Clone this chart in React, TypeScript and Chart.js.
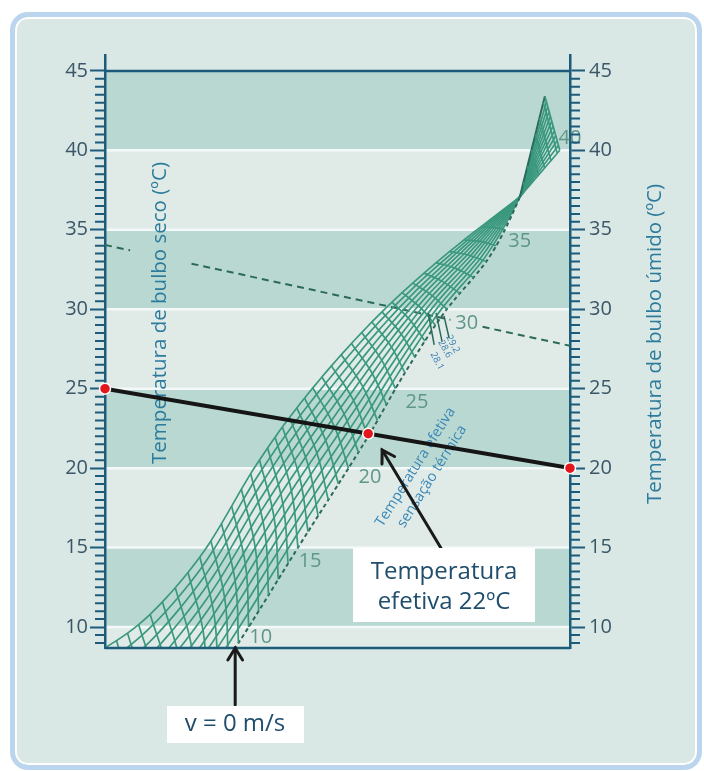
import React, { useEffect, useRef } from 'react';
import { Chart, registerables } from 'chart.js';

Chart.register(...registerables);

// ---------------- data ----------------
// temperature axes (°C)
const yMin = 8.68;
const yMax = 46;
const yTopLine = 45;
const bandEdges = [8.68, 10, 15, 20, 25, 30, 35, 40, 45];
const bandShade = ['light', 'dark', 'light', 'dark', 'light', 'dark', 'light', 'dark'];

// reading line: dry bulb (left) -> wet bulb (right)
const dryBulbTemp = 25;
const wetBulbTemp = 20;
const effTempX = 56.6; // position along the nomogram (0 = left axis, 100 = right axis)
const effTempY = 22.17;

// dashed reference line (left value, right value, interrupted where text sits)
const refLineLeft = 34.05;
const refLineRight = 27.7;
const refLineGaps = [[5.4, 18.6], [74.3, 81.2]];

// v = 0 m/s curve: effective temperature e sits at y = e
const v0Et = [-4, 0, 5, 8.68, 10, 15, 22, 26, 30, 33, 35, 37.07];
const v0X = [0, 8.5, 19.8, 28.0, 30.9, 41.5, 56.6, 64.5, 73.5, 82.0, 86.0, 89.2];
const v0TipEt = 43.4;
const v0TipX = 94.6;

// highest-velocity curve (upper-left boundary)
const vmaxEt = [-4, -1, 3, 7, 12.5, 20, 26, 31.5, 34.5, 37.07];
const vmaxX = [-8, 0, 9.7, 20.4, 32.3, 44.7, 57.4, 69.9, 78.9, 89.2];
const vmaxY = [7.6, 8.7, 10.8, 14.4, 20.1, 25.05, 29.2, 32.6, 34.75, 37.07];
const vmaxEndX = 97.8;
const vmaxEndY = 40.0;

const crossingEt = 37.07;

// effective-temperature lines of the mesh
const etLines = [0, 1, 2, 3, 4, 5, 6, 7, 8, 9, 10, 11, 12, 13, 14, 15, 16, 17, 18, 19, 20, 21, 22, 23, 24, 25, 26, 27, 28, 29, 30, 31, 32, 33, 34, 35, 36, 37, 38, 39, 40, 41, 42, 43, 43.4];
const fanEtSteps = [-4, -3, -2, -1, 0, 1, 2, 3, 4, 5, 6, 7, 8, 9, 10, 11, 12, 13, 14, 15, 16, 17, 18, 19, 20, 21, 22, 23, 24, 25, 26, 27, 28, 29, 30, 31, 32, 33, 34, 35, 36, 37.07, 38, 39, 40, 41, 42, 43, 43.4];
// air-velocity lines (fraction of the way from v = 0 to the highest velocity)
const fanFractions = [0, 0.1, 0.19, 0.28, 0.37, 0.46, 0.55, 0.64, 0.73, 0.82, 0.91, 1];

// effective temperature labels
const etLabels = ['10', '15', '20', '25', '30', '35', '40'];
const etLabelX = [33.5, 44.1, 57.0, 67.1, 77.8, 89.2, 100];
const etLabelY = [9.37, 14.15, 19.44, 24.16, 29.14, 34.3, 40.78];

// small marks near ET 30
const markLabels = ['28.1', '28.6', '29.2'];
const markX1 = [69.5, 71.2, 72.9];
const markY1 = [29.77, 29.77, 29.58];
const markX2 = [70.8, 72.5, 74.0];
const markY2 = [27.75, 27.94, 28.19];
const markLabelX = [71.4, 73.1, 74.8];
const markLabelY = [26.74, 27.5, 27.82];

// arrows (tail -> tip, chart units)
const arrowEtFrom = { x: 72.5, y: 14.85 };
const arrowEtTo = { x: 59.6, y: 21.14 };
const arrowVFrom = { x: 28.0, y: 5.09 };
const arrowVTo = { x: 28.0, y: 8.68 };

// ---------------- styles ----------------
const AXIS = '#1d5b7a';
const TICK_TXT = '#3b5767';
const TITLE = '#2c7b9b';
const MESH = '#3a987e';
const MESH_DARK = '#2b6a5a';
const DARK_BAND = '#b9d8d1';
const LIGHT_BAND = '#e0ebe8';
const FONT = '"Open Sans", "DejaVu Sans", sans-serif';
const PX_PER_X = 4.65;
const PX_PER_Y = 15.886;

// smooth monotone interpolation through table values (linear beyond the ends)
function monotone(keys: number[], vals: number[]) {
  const n = keys.length;
  const d: number[] = [];
  const m: number[] = [];
  for (let i = 0; i < n - 1; i++) d[i] = (vals[i + 1] - vals[i]) / (keys[i + 1] - keys[i]);
  m[0] = d[0];
  m[n - 1] = d[n - 2];
  for (let i = 1; i < n - 1; i++) m[i] = d[i - 1] * d[i] <= 0 ? 0 : (d[i - 1] + d[i]) / 2;
  for (let i = 0; i < n - 1; i++) {
    if (d[i] === 0) { m[i] = 0; m[i + 1] = 0; continue; }
    const a = m[i] / d[i];
    const b = m[i + 1] / d[i];
    const s = a * a + b * b;
    if (s > 9) {
      const t = 3 / Math.sqrt(s);
      m[i] = t * a * d[i];
      m[i + 1] = t * b * d[i];
    }
  }
  return (k: number) => {
    if (k <= keys[0]) return vals[0] + d[0] * (k - keys[0]);
    if (k >= keys[n - 1]) return vals[n - 1] + d[n - 2] * (k - keys[n - 1]);
    let i = 0;
    while (i < n - 2 && k > keys[i + 1]) i++;
    const h = keys[i + 1] - keys[i];
    const t = (k - keys[i]) / h;
    const t2 = t * t;
    const t3 = t2 * t;
    return (2 * t3 - 3 * t2 + 1) * vals[i] + (t3 - 2 * t2 + t) * h * m[i] + (-2 * t3 + 3 * t2) * vals[i + 1] + (t3 - t2) * h * m[i + 1];
  };
}
const v0Fx = monotone(v0Et, v0X);
const vmFx = monotone(vmaxEt, vmaxX);
const vmFy = monotone(vmaxEt, vmaxY);
const lastV0X = v0X[v0X.length - 1];
const lastVmX = vmaxX[vmaxX.length - 1];
const lastVmY = vmaxY[vmaxY.length - 1];

const p0 = (e: number) => {
  if (e <= crossingEt) return { x: v0Fx(e), y: e };
  const t = (e - crossingEt) / (v0TipEt - crossingEt);
  return { x: lastV0X + (v0TipX - lastV0X) * t, y: e };
};
const p1 = (e: number) => {
  if (e <= crossingEt) return { x: vmFx(e), y: vmFy(e) };
  const t = (e - crossingEt) / (v0TipEt - crossingEt);
  return { x: lastVmX + (vmaxEndX - lastVmX) * t, y: lastVmY + (vmaxEndY - lastVmY) * t };
};

function buildDatasets() {
  const ds: any[] = [];
  // dashed reference line, split at the gaps
  const refAt = (x: number) => refLineLeft + (refLineRight - refLineLeft) * (x / 100);
  const refData: any[] = [{ x: 0, y: refAt(0) }];
  refLineGaps.forEach(([a, b]) => {
    refData.push({ x: a, y: refAt(a) }, { x: (a + b) / 2, y: null }, { x: b, y: refAt(b) });
  });
  refData.push({ x: 100, y: refAt(100) });
  ds.push({ data: refData, borderColor: MESH_DARK, borderWidth: 2, borderDash: [7, 5], pointRadius: 0, spanGaps: false, order: 6 });

  // ET lines (slightly bowed)
  etLines.forEach((e) => {
    const a = p0(e);
    const b = p1(e);
    const dxp = (b.x - a.x) * PX_PER_X;
    const dyp = (b.y - a.y) * PX_PER_Y;
    const len = Math.hypot(dxp, dyp);
    const bow = e <= crossingEt ? 0.045 * len : 0;
    const nx = len ? dyp / len : 0;
    const ny = len ? -dxp / len : 0;
    const mid = {
      x: (a.x + b.x) / 2 + (nx * bow) / PX_PER_X,
      y: (a.y + b.y) / 2 + (ny * bow) / PX_PER_Y,
    };
    ds.push({ data: [a, mid, b], borderColor: MESH, borderWidth: 1.7, pointRadius: 0, tension: 0.4, order: 4 });
  });
  // velocity lines
  fanFractions.forEach((t) => {
    const data = fanEtSteps.map((e) => {
      const a = p0(e);
      const b = p1(e);
      return { x: a.x + (b.x - a.x) * t, y: a.y + (b.y - a.y) * t };
    });
    const isZero = t === 0;
    ds.push({
      data,
      borderColor: isZero ? MESH_DARK : MESH,
      borderWidth: isZero ? 2 : 1.7,
      pointRadius: 0,
      tension: 0.2,
      order: 4,
      segment: isZero ? { borderDash: (c: any) => (c.p1.parsed.y <= crossingEt + 0.01 ? [4, 3] : undefined) } : undefined,
    });
  });
  // small marks
  markX1.forEach((x, i) => {
    ds.push({ data: [{ x, y: markY1[i] }, { x: markX2[i], y: markY2[i] }], borderColor: MESH_DARK, borderWidth: 1.5, pointRadius: 0, order: 3 });
  });
  // reading line
  ds.push({ data: [{ x: 0, y: dryBulbTemp }, { x: 100, y: wetBulbTemp }], borderColor: '#151515', borderWidth: 4, pointRadius: 0, order: 1 });
  ds.push({
    data: [{ x: 0, y: dryBulbTemp }, { x: effTempX, y: effTempY }, { x: 100, y: wetBulbTemp }],
    showLine: false,
    pointRadius: 5.5,
    pointBackgroundColor: '#e3151d',
    pointBorderColor: '#ffffff',
    pointBorderWidth: 1.5,
    order: 0,
    clip: false,
  });
  return ds;
}

function drawArrow(ctx: CanvasRenderingContext2D, x1: number, y1: number, x2: number, y2: number) {
  ctx.beginPath();
  ctx.moveTo(x1, y1);
  ctx.lineTo(x2, y2);
  ctx.stroke();
  const ang = Math.atan2(y2 - y1, x2 - x1);
  const L = 14;
  const w = 0.55;
  ctx.beginPath();
  ctx.moveTo(x2 - L * Math.cos(ang - w), y2 - L * Math.sin(ang - w));
  ctx.lineTo(x2, y2);
  ctx.lineTo(x2 - L * Math.cos(ang + w), y2 - L * Math.sin(ang + w));
  ctx.stroke();
}

function rotText(ctx: CanvasRenderingContext2D, text: string, x: number, y: number, ang: number) {
  ctx.save();
  ctx.translate(x, y);
  ctx.rotate(ang);
  ctx.fillText(text, 0, 0);
  ctx.restore();
}

const nomogramPlugin = {
  id: 'nomogram',
  beforeDraw(chart: any) {
    const { ctx, chartArea: a, scales } = chart;
    const y = scales.y;
    ctx.save();
    for (let i = 0; i < bandShade.length; i++) {
      const top = y.getPixelForValue(bandEdges[i + 1]);
      const bot = y.getPixelForValue(bandEdges[i]);
      ctx.fillStyle = bandShade[i] === 'dark' ? DARK_BAND : LIGHT_BAND;
      ctx.fillRect(a.left, top, a.right - a.left, bot - top);
    }
    ctx.strokeStyle = '#f3f9f8';
    ctx.lineWidth = 2.5;
    for (let i = 1; i < bandEdges.length - 1; i++) {
      const py = y.getPixelForValue(bandEdges[i]);
      ctx.beginPath();
      ctx.moveTo(a.left, py);
      ctx.lineTo(a.right, py);
      ctx.stroke();
    }
    ctx.restore();
  },
  beforeDatasetsDraw(chart: any) {
    const { ctx, scales } = chart;
    const x = scales.x;
    const y = scales.y;
    ctx.save();
    ctx.textAlign = 'center';
    ctx.textBaseline = 'middle';
    // axis titles
    ctx.fillStyle = TITLE;
    ctx.font = `20.5px ${FONT}`;
    rotText(ctx, 'Temperatura de bulbo seco (ºC)', 160, 313, -Math.PI / 2);
    rotText(ctx, 'Temperatura de bulbo úmido (ºC)', 655, 344, -Math.PI / 2);
    // ET labels
    ctx.fillStyle = '#5f968a';
    ctx.font = `20px ${FONT}`;
    etLabels.forEach((t, i) => {
      ctx.fillText(t, x.getPixelForValue(etLabelX[i]), y.getPixelForValue(etLabelY[i]));
    });
    // rotated annotation
    ctx.fillStyle = '#3a87b6';
    ctx.font = `14.5px ${FONT}`;
    const ang = -58 * Math.PI / 180;
    rotText(ctx, 'Temperatura efetiva', 415.5, 467, ang);
    rotText(ctx, 'sensação térmica', 432, 476.5, ang);
    // small mark labels
    ctx.font = `9.5px ${FONT}`;
    ctx.fillStyle = '#3a7fb0';
    markLabels.forEach((t, i) => {
      rotText(ctx, t, x.getPixelForValue(markLabelX[i]), y.getPixelForValue(markLabelY[i]), 62 * Math.PI / 180);
    });
    ctx.restore();
  },
  afterDatasetsDraw(chart: any) {
    const { ctx, chartArea: a, scales } = chart;
    const x = scales.x;
    const y = scales.y;
    const y2 = scales.y2;
    ctx.save();
    // frame lines at 45 and bottom
    ctx.strokeStyle = AXIS;
    ctx.lineWidth = 2.5;
    const pTop = y.getPixelForValue(yTopLine);
    ctx.beginPath();
    ctx.moveTo(a.left, pTop);
    ctx.lineTo(a.right, pTop);
    ctx.moveTo(a.left, a.bottom);
    ctx.lineTo(a.right, a.bottom);
    ctx.stroke();
    // minor ticks
    ctx.lineWidth = 2;
    for (let v = 9; v <= 45; v += 0.5) {
      if (v % 5 === 0) continue;
      const py = y.getPixelForValue(v);
      ctx.beginPath();
      ctx.moveTo(a.left - 10, py);
      ctx.lineTo(a.left, py);
      const py2 = y2.getPixelForValue(v);
      ctx.moveTo(a.right, py2);
      ctx.lineTo(a.right + 10, py2);
      ctx.stroke();
    }
    // arrows
    ctx.strokeStyle = '#1a1a1a';
    ctx.lineWidth = 3;
    ctx.lineCap = 'round';
    drawArrow(ctx, x.getPixelForValue(arrowEtFrom.x), y.getPixelForValue(arrowEtFrom.y), x.getPixelForValue(arrowEtTo.x), y.getPixelForValue(arrowEtTo.y));
    drawArrow(ctx, x.getPixelForValue(arrowVFrom.x), y.getPixelForValue(arrowVFrom.y), x.getPixelForValue(arrowVTo.x), y.getPixelForValue(arrowVTo.y));
    // callout boxes
    ctx.fillStyle = '#ffffff';
    ctx.fillRect(353, 548, 182, 74);
    ctx.fillRect(167, 706, 137, 37);
    ctx.fillStyle = '#1f4d6b';
    ctx.font = `24px ${FONT}`;
    ctx.textAlign = 'center';
    ctx.textBaseline = 'middle';
    ctx.fillText('Temperatura', 444, 572);
    ctx.fillText('efetiva 22ºC', 444, 602);
    ctx.fillText('v = 0 m/s', 235, 724);
    ctx.restore();
  },
};

export default function App() {
  const ref = useRef<HTMLCanvasElement>(null);
  useEffect(() => {
    const tickFont = { size: 20, family: FONT };
    const chart = new Chart(ref.current as HTMLCanvasElement, {
      type: 'line',
      data: { datasets: buildDatasets() },
      options: {
        responsive: false,
        animation: false,
        devicePixelRatio: 1,
        events: [],
        layout: { padding: { left: 20, right: 20, top: 55, bottom: 123 } },
        plugins: { legend: { display: false }, tooltip: { enabled: false } },
        scales: {
          x: { type: 'linear', min: 0, max: 100, display: false },
          y: {
            type: 'linear',
            position: 'left',
            min: yMin,
            max: yMax,
            afterFit: (s: any) => { s.width = 85; },
            grid: { display: true, drawOnChartArea: false, drawTicks: true, tickLength: 15, tickWidth: 2, tickColor: AXIS },
            border: { display: true, color: AXIS, width: 2.5 },
            ticks: { stepSize: 5, includeBounds: false, padding: 2, color: TICK_TXT, font: tickFont },
          },
          y2: {
            type: 'linear',
            position: 'right',
            min: yMin,
            max: yMax,
            afterFit: (s: any) => { s.width = 114; },
            grid: { display: true, drawOnChartArea: false, drawTicks: true, tickLength: 15, tickWidth: 2, tickColor: AXIS },
            border: { display: true, color: AXIS, width: 2.5 },
            ticks: { stepSize: 5, includeBounds: false, padding: 4, color: TICK_TXT, font: tickFont },
          },
        },
      } as any,
      plugins: [nomogramPlugin],
    });
    return () => chart.destroy();
  }, []);
  return (
    <div style={{ position: 'absolute', left: 0, top: 0, width: 704, height: 771, overflow: 'hidden', background: '#ffffff' }}>
      <div
        style={{
          position: 'absolute',
          left: 10,
          top: 12,
          width: 692,
          height: 758,
          boxSizing: 'border-box',
          border: '5px solid #bcd5ee',
          borderRadius: 18,
          background: '#d9e7e5',
          boxShadow: 'inset 0 0 0 2px #ffffff',
        }}
      />
      <canvas ref={ref} width={704} height={771} style={{ position: 'absolute', left: 0, top: 0, width: 704, height: 771 }} />
    </div>
  );
}
